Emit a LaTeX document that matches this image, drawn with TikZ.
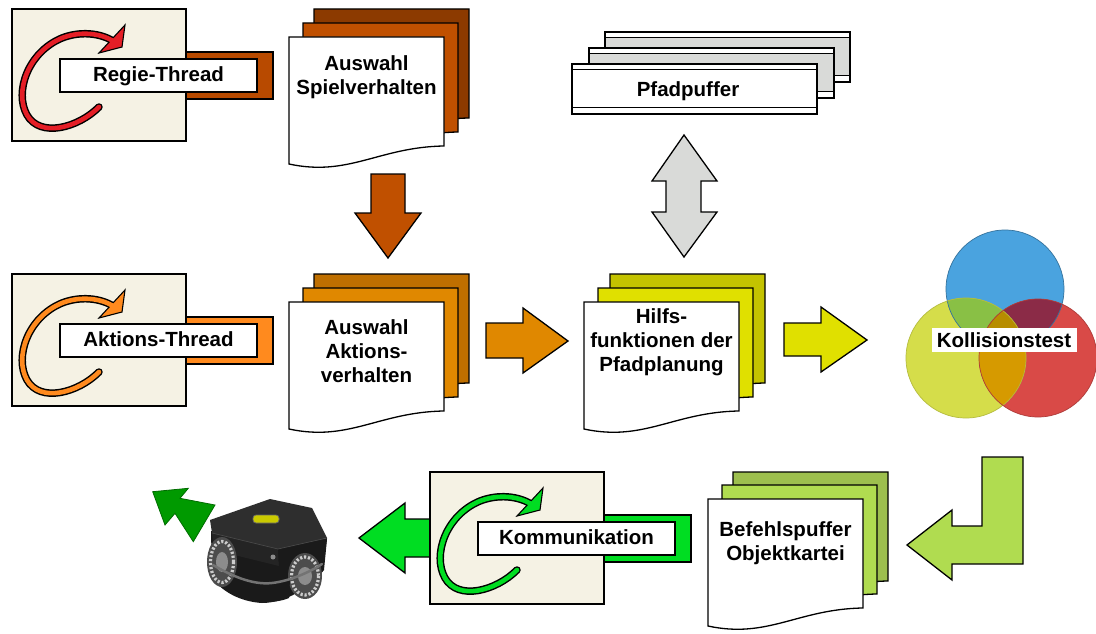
\documentclass[tikz,border=0pt]{standalone}
\usepackage{fontspec}
\setmainfont{Liberation Sans}

\definecolor{beige}{HTML}{F5F2E4}
\definecolor{brownA}{HTML}{8C3A00}
\definecolor{brownB}{HTML}{C05000}
\definecolor{brownTab}{HTML}{B84A00}
\definecolor{orngA}{HTML}{BF6F00}
\definecolor{orngB}{HTML}{E08800}
\definecolor{orngTab}{HTML}{FF8A1E}
\definecolor{yelA}{HTML}{C4C300}
\definecolor{yelB}{HTML}{E0E000}
\definecolor{grnA}{HTML}{9DBF4E}
\definecolor{grnB}{HTML}{B0DC50}
\definecolor{grnTab}{HTML}{00DD22}
\definecolor{grnDark}{HTML}{009A00}
\definecolor{loopRed}{HTML}{E41E26}
\definecolor{bufGray}{HTML}{D9DAD8}
\definecolor{cBlue}{HTML}{4AA3DF}
\definecolor{cYel}{HTML}{D5DD4A}
\definecolor{cRed}{HTML}{D94A47}
\definecolor{cBY}{HTML}{89C045}
\definecolor{cBR}{HTML}{8B2B47}
\definecolor{cYR}{HTML}{D69A00}
\definecolor{cBYR}{HTML}{B78D00}
\definecolor{robTop}{HTML}{2E2E2E}
\definecolor{robDark}{HTML}{1A1A1A}
\definecolor{robFace}{HTML}{242424}

\tikzset{
  frame/.style={draw=black, line width=1.3, line join=miter},
  lbl/.style={font=\bfseries\fontsize{20.5}{24}\selectfont, align=center, inner sep=0pt},
}

% one sheet of a document stack, wavy lower edge
\newcommand\docsheet[3]{%
  \draw[frame, fill=#3, shift={(#1,#2)}]
    (0,0) -- (155,0) -- (155,109) .. controls (90,110) and (60,140) .. (0,127) -- cycle;}

% one sheet of the path buffer, with bands at top and bottom
\newcommand\bufsheet[3]{%
  \begin{scope}[shift={(#1,#2)}]
    \fill[white] (0,0) rectangle (245,50);
    \fill[#3] (0,6) rectangle (245,44);
    \draw[line width=1] (0,6) -- (245,6) (0,44) -- (245,44);
    \draw[frame] (0,0) rectangle (245,50);
  \end{scope}}

% thread box: tab, panel, loop arrow and label
% #1,#2 shift, #3 tab colour, #4 loop colour, #5 text, #6 node name
\newcommand\threadgroup[6]{%
  \begin{scope}[shift={(#1,#2)}]
    \draw[frame, fill=#3] (140,52) rectangle (273,99);
    \draw[frame, fill=beige] (12,9) rectangle (186,141);
    \draw[black, line width=7.5, line cap=round]
      (99,107) .. controls (78,128) and (40,138) .. (27,115)
      .. controls (14,92) and (28,52) .. (62,38)
      .. controls (80,31) and (100,33) .. (113,41);
    \draw[frame, line width=1.1, fill=#4] (125,25) -- (122,47) -- (99,53) -- cycle;
    \draw[#4, line width=4.6, line cap=round]
      (99,107) .. controls (78,128) and (40,138) .. (27,115)
      .. controls (14,92) and (28,52) .. (62,38)
      .. controls (80,31) and (100,33) .. (113,41);
    \draw[frame, fill=white] (60,59) rectangle (257,92);
    \node[lbl, anchor=base] (#6) at (158.5,81.5) {#5};
  \end{scope}}

\begin{document}
\begin{tikzpicture}[x=1pt, y=-1pt]
  \useasboundingbox (0,0) rectangle (1096,634);
  \fill[white] (0,0) rectangle (1096,634);

  % ---- thread boxes
  \threadgroup{0}{0}{brownTab}{loopRed}{Regie-Thread}{regie}
  \threadgroup{0}{265}{orngTab}{orngTab}{Aktions-Thread}{aktionsthread}

  % ---- stack: game behaviour
  \docsheet{314}{9}{brownA}
  \docsheet{303}{23}{brownB}
  \docsheet{289}{37}{white}
  \node[lbl] (spiel) at (366.5,76.8) {Auswahl\\Spielverhalten};

  % ---- down arrow
  \draw[frame, fill=brownB] (371,174) -- (405,174) -- (405,213) -- (421,213)
    -- (388,258) -- (355,213) -- (371,213) -- cycle;

  % ---- stack: action behaviour
  \docsheet{314}{274}{orngA}
  \docsheet{303}{288}{orngB}
  \docsheet{289}{302}{white}
  \node[lbl] (aktionen) at (366.5,350.7) {Auswahl\\Aktions-\\verhalten};

  % ---- arrow to path planning
  \draw[frame, fill=orngB] (486,323) -- (523,323) -- (523,308) -- (568,341)
    -- (523,373) -- (523,358) -- (486,358) -- cycle;

  % ---- path buffer
  \bufsheet{605}{32}{bufGray}
  \bufsheet{589}{48}{bufGray}
  \bufsheet{572}{64}{white}
  \node[lbl, anchor=base] (puffer) at (688,97) {Pfadpuffer};

  % ---- double arrow
  \draw[frame, fill=bufGray] (684,135) -- (717,181) -- (701,181) -- (701,212)
    -- (717,212) -- (684,257) -- (652,212) -- (666,212) -- (666,181)
    -- (652,181) -- cycle;

  % ---- stack: path planning helpers
  \docsheet{610}{274}{yelA}
  \docsheet{598}{288}{yelB}
  \docsheet{584}{302}{white}
  \node[lbl] (hilfs) at (661.5,341.8) {Hilfs-\\funktionen der\\Pfadplanung};

  % ---- arrow to collision test
  \draw[frame, fill=yelB] (784,323) -- (821,323) -- (821,307) -- (867,340)
    -- (821,372) -- (821,356) -- (784,356) -- cycle;

  % ---- collision test circles
  \coordinate (cb) at (1005,289);
  \coordinate (cy) at (966,358);
  \coordinate (cr) at (1038,358);
  \fill[cBlue] (cb) circle (59);
  \fill[cYel] (cy) circle (60);
  \fill[cRed] (cr) circle (59);
  \begin{scope}\clip (cb) circle (59); \fill[cBY] (cy) circle (60);\end{scope}
  \begin{scope}\clip (cb) circle (59); \fill[cBR] (cr) circle (59);\end{scope}
  \begin{scope}\clip (cy) circle (60); \fill[cYR] (cr) circle (59);\end{scope}
  \begin{scope}\clip (cb) circle (59); \clip (cy) circle (60); \fill[cBYR] (cr) circle (59);\end{scope}
  \draw[cBlue!70!black, line width=0.7] (cb) circle (59);
  \draw[cYel!85!black, line width=0.7] (cy) circle (60);
  \draw[cRed!80!black, line width=0.7] (cr) circle (59);
  \fill[white] (932,328) rectangle (1077,352);
  \node[lbl, anchor=base] (kollision) at (1004,347.5) {Kollisionstest};

  % ---- L-shaped return arrow
  \draw[frame, fill=grnB] (982,457) -- (1023,457) -- (1023,564) -- (952,564)
    -- (952,580) -- (907,545) -- (952,510) -- (952,526) -- (982,526) -- cycle;

  % ---- stack: command buffer
  \docsheet{733}{472}{grnA}
  \docsheet{722}{485}{grnB}
  \docsheet{708}{499}{white}
  \node[lbl] (befehl) at (785.5,542.8) {Befehlspuffer\\Objektkartei};

  % ---- arrow to the robot (behind the communication box)
  \draw[frame, fill=grnTab] (440,519) -- (405,519) -- (405,503) -- (359,538)
    -- (405,573) -- (405,557) -- (440,557) -- cycle;
  \threadgroup{418}{463}{grnTab}{grnTab}{Kommunikation}{komm}

  % ---- robot
  \fill[robDark] (211,531) -- (212,578) .. controls (225,595) and (245,602) .. (262,603)
    .. controls (285,603) and (310,588) .. (324,570) -- (327,539) -- cycle;
  \fill[robFace] (212,533) -- (278,549) -- (279,566) -- (214,550) -- cycle;
  \fill[robDark] (278,549) -- (327,538) -- (325,554) -- (279,566) -- cycle;
  \fill[robTop] (210,520) -- (270,499) -- (312,508) -- (327,538) -- (278,549) -- (212,533) -- cycle;
  \draw[gray!60!black, line width=0.6] (212,533) -- (278,549) -- (327,538);
  % wheels
  \fill[black!70] (222,562) ellipse [x radius=15, y radius=25];
  \draw[black!20, line width=3.2, dash pattern=on 2.2 off 1.8] (222,562) ellipse [x radius=11.5, y radius=20.5];
  \fill[black!45] (222,562) ellipse [x radius=6, y radius=10];
  \fill[black!70] (305,576) ellipse [x radius=17, y radius=23];
  \draw[black!20, line width=3.2, dash pattern=on 2.2 off 1.8] (305,576) ellipse [x radius=13.5, y radius=19];
  \fill[black!45] (305,576) ellipse [x radius=7, y radius=9];
  \fill[robDark] (238,572) .. controls (255,586) and (272,588) .. (290,580) -- (289,598)
    .. controls (275,604) and (252,603) .. (240,596) -- cycle;
  \draw[black!55, line width=2.5, line cap=round] (213,565) .. controls (235,578) and (255,585) .. (272,583)
    .. controls (290,581) and (310,572) .. (322,564);
  \fill[black!45] (273,557) circle (2.5);
  \draw[fill=yelB!90!black, draw=black!60, line width=0.8, rounded corners=3] (253,515) rectangle (279,523);
  % arrow leaving the robot
  \draw[fill=grnDark, draw=grnDark!70!black, line width=0.8] (152.7,491.7) -- (188.3,488.3) -- (180,498.3)
    -- (215,505) -- (193.3,541.7) -- (175,513.3) -- (165,525) -- cycle;
\end{tikzpicture}
\end{document}
